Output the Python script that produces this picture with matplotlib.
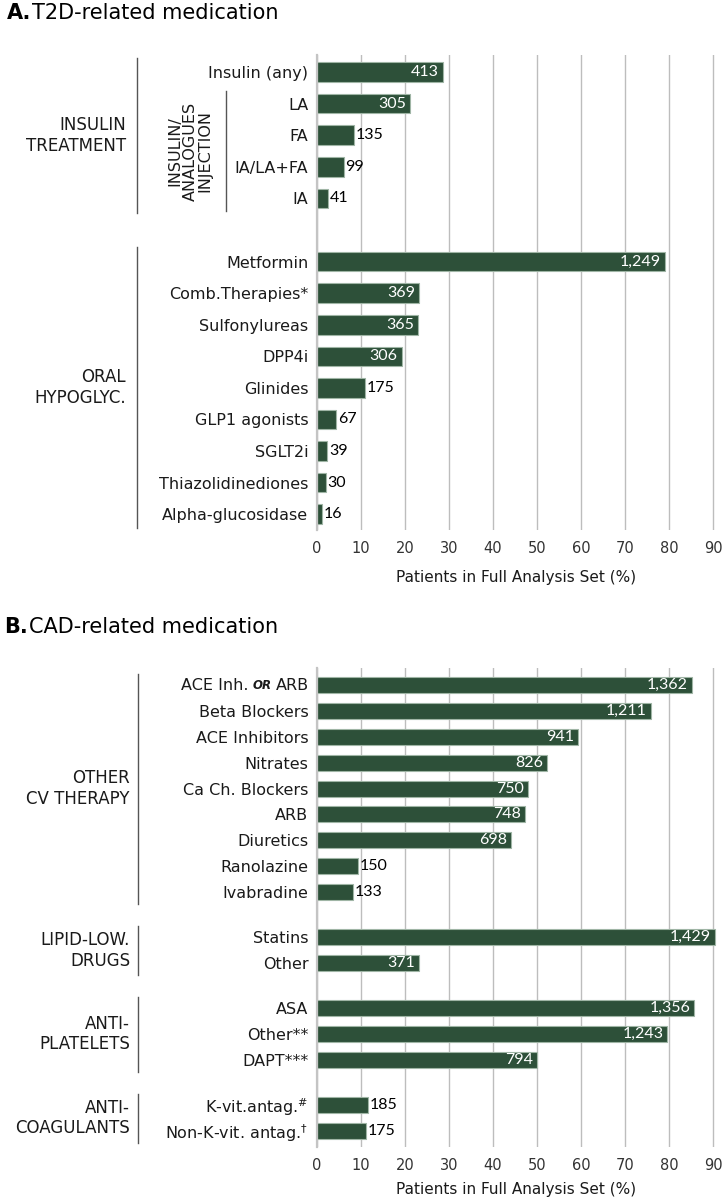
import matplotlib
matplotlib.use("Agg")
import matplotlib.pyplot as plt
from matplotlib.transforms import blended_transform_factory
from matplotlib.lines import Line2D

# ---------------- data ----------------
a_title_tag = "A."
a_title = "T2D-related medication"
a_cats = ["Insulin (any)", "LA", "FA", "IA/LA+FA", "IA",
          "Metformin", "Comb.Therapies*", "Sulfonylureas", "DPP4i", "Glinides",
          "GLP1 agonists", "SGLT2i", "Thiazolidinediones", "Alpha-glucosidase"]
a_pct = [28.6, 21.1, 8.5, 6.1, 2.5,
         79.0, 23.3, 23.1, 19.3, 11.0, 4.3, 2.3, 2.0, 1.2]
a_n = ["413", "305", "135", "99", "41",
       "1,249", "369", "365", "306", "175", "67", "39", "30", "16"]
a_group_names = ["INSULIN\nTREATMENT", "ORAL\nHYPOGLYC."]
a_group_sizes = [5, 9]
a_sub_name = "INSULIN/\nANALOGUES\nINJECTION"
a_sub_first, a_sub_last = "LA", "IA"

b_title_tag = "B."
b_title = "CAD-related medication"
b_cats = ["ACE Inh. OR ARB", "Beta Blockers", "ACE Inhibitors", "Nitrates",
          "Ca Ch. Blockers", "ARB", "Diuretics", "Ranolazine", "Ivabradine",
          "Statins", "Other",
          "ASA", "Other**", "DAPT***",
          "K-vit.antag.#", "Non-K-vit. antag.†"]
b_pct = [85.2, 75.8, 59.4, 52.3, 48.0, 47.2, 44.1, 9.4, 8.2,
         90.3, 23.3,
         85.7, 79.6, 50.0,
         11.6, 11.2]
b_n = ["1,362", "1,211", "941", "826", "750", "748", "698", "150", "133",
       "1,429", "371",
       "1,356", "1,243", "794",
       "185", "175"]
b_group_names = ["OTHER\nCV THERAPY", "LIPID-LOW.\nDRUGS", "ANTI-\nPLATELETS", "ANTI-\nCOAGULANTS"]
b_group_sizes = [9, 2, 3, 2]

x_ticks = [0, 10, 20, 30, 40, 50, 60, 70, 80, 90]
x_label = "Patients in Full Analysis Set (%)"

# ---------------- style ----------------
W, H = 725, 1200
FONT = "DejaVu Sans"
NUMFONT = "Lato"
BAR = "#2d5039"
BAR_EDGE = "#9fb5a5"
GRID = "#bdbdbd"
LINE = "#555555"
TXT = "#1a1a1a"
plt.rcParams["font.family"] = [FONT]
plt.rcParams["text.color"] = TXT

fig = plt.figure(figsize=(W / 100, H / 100), dpi=100)
fig.patch.set_facecolor("white")


def positions(sizes, gap):
    pos, y = [], 0.0
    for s in sizes:
        for _ in range(s):
            pos.append(y)
            y += 1
        y += gap
    return pos


def px_rect(left, top, right, bottom):
    return [left / W, 1 - bottom / H, (right - left) / W, (bottom - top) / H]


def draw_panel(ax, cats, pct, n, pos, ylim, label_y):
    ax.barh(pos, pct, height=0.62, color=BAR, edgecolor=BAR_EDGE, linewidth=0.8, zorder=3)
    ax.set_xlim(0, 91)
    ax.set_ylim(*ylim)
    ax.set_xticks(x_ticks)
    ax.set_xticklabels([str(t) for t in x_ticks], fontsize=10.5, color="#333333")
    ax.tick_params(axis="x", length=0, pad=8)
    ax.xaxis.grid(True, color=GRID, linewidth=1.0, zorder=0)
    ax.set_axisbelow(True)
    for s in ["top", "right", "bottom"]:
        ax.spines[s].set_visible(False)
    ax.spines["left"].set_color("#c4c4c4")
    ax.spines["left"].set_linewidth(1.6)
    ax.spines["left"].set_zorder(4)
    ax.set_yticks(pos)
    disp = []
    for c in cats:
        if c.endswith("#"):
            disp.append(c[:-1] + r"$^{\#}$")
        elif c.endswith("†"):
            disp.append(c[:-1] + r"$^{\dag}$")
        elif " OR " in c:
            disp.append("")
        else:
            disp.append(c)
    ax.set_yticklabels(disp, fontsize=11.5, color=TXT)
    ax.tick_params(axis="y", length=0, pad=6)
    for y, v, t in zip(pos, pct, n):
        if v > 15:
            ax.annotate(t, xy=(v, y), xytext=(-4, 0), textcoords="offset pixels",
                        ha="right", va="center", color="white", fontsize=11.5,
                        family=NUMFONT, zorder=5)
        else:
            ax.annotate(t, xy=(v, y), xytext=(2, 0), textcoords="offset pixels",
                        ha="left", va="center", color="black", fontsize=11.5,
                        family=NUMFONT, zorder=5)
    ax.set_xlabel(x_label, fontsize=11, color=TXT)
    ax.xaxis.label.set_va("center")
    ax.xaxis.set_label_coords(0.497, label_y)


def or_label(ax, cat, y):
    r = fig.canvas.get_renderer()
    left, right = cat.split(" OR ")
    x0 = -8
    t1 = ax.annotate(right, xy=(0, y), xycoords=("axes fraction", "data"),
                     xytext=(x0, 0), textcoords="offset pixels",
                     ha="right", va="center", fontsize=11.5)
    w1 = t1.get_window_extent(r).width
    x1 = x0 - w1 - 4
    t2 = ax.annotate("OR", xy=(0, y), xycoords=("axes fraction", "data"),
                     xytext=(x1, 0), textcoords="offset pixels",
                     ha="right", va="center", fontsize=8.5,
                     fontweight="bold", fontstyle="italic")
    w2 = t2.get_window_extent(r).width
    x2 = x1 - w2 - 4
    ax.annotate(left, xy=(0, y), xycoords=("axes fraction", "data"),
                xytext=(x2, 0), textcoords="offset pixels",
                ha="right", va="center", fontsize=11.5)


def groups(ax, names, sizes, pos, label_px, line_px, ext=0.45):
    tr = blended_transform_factory(fig.transFigure, ax.transData)
    i = 0
    for name, s in zip(names, sizes):
        y0, y1 = pos[i], pos[i + s - 1]
        ax.text(label_px / W, (y0 + y1) / 2, name, transform=tr, ha="right",
                va="center", fontsize=12, linespacing=1.2, color=TXT)
        ax.add_line(Line2D([line_px / W, line_px / W], [y0 - ext, y1 + ext],
                           transform=tr, color=LINE, linewidth=1.0, clip_on=False))
        i += s


def title(tag, text, x_px, y_px):
    r = fig.canvas.get_renderer()
    t = fig.text(x_px / W, 1 - y_px / H, tag, fontsize=15, fontweight="bold",
                 va="center", ha="left", color="black")
    w = t.get_window_extent(r).width
    fig.text((x_px + w + 1) / W, 1 - y_px / H, text, fontsize=15,
             va="center", ha="left", color="black")


# ---------------- panel A ----------------
axA = fig.add_axes(px_rect(316.7, 55, 316.7 + 401, 530))
posA = positions(a_group_sizes, 1.0)
draw_panel(axA, a_cats, a_pct, a_n, posA, (14.5, -0.54), -0.099)
groups(axA, a_group_names, a_group_sizes, posA, 126, 137)
trA = blended_transform_factory(fig.transFigure, axA.transData)
i0, i1 = a_cats.index(a_sub_first), a_cats.index(a_sub_last)
axA.text(190 / W, (posA[i0] + posA[i1]) / 2, a_sub_name, transform=trA, rotation=90,
         ha="center", va="center", fontsize=11.5, linespacing=1.0, multialignment="center")
axA.add_line(Line2D([226 / W, 226 / W], [posA[i0] - 0.4, posA[i1] + 0.4],
                    transform=trA, color=LINE, linewidth=1.0, clip_on=False))
title(a_title_tag, a_title, 7, 13)

# ---------------- panel B ----------------
axB = fig.add_axes(px_rect(316.7, 668, 316.7 + 401, 1147))
posB = positions(b_group_sizes, 0.75)
draw_panel(axB, b_cats, b_pct, b_n, posB, (17.87, -0.67), -0.088)
for c, y in zip(b_cats, posB):
    if " OR " in c:
        or_label(axB, c, y)
groups(axB, b_group_names, b_group_sizes, posB, 130, 138)
title(b_title_tag, b_title, 4, 627)

fig.savefig("out.png", dpi=100, facecolor="white")
